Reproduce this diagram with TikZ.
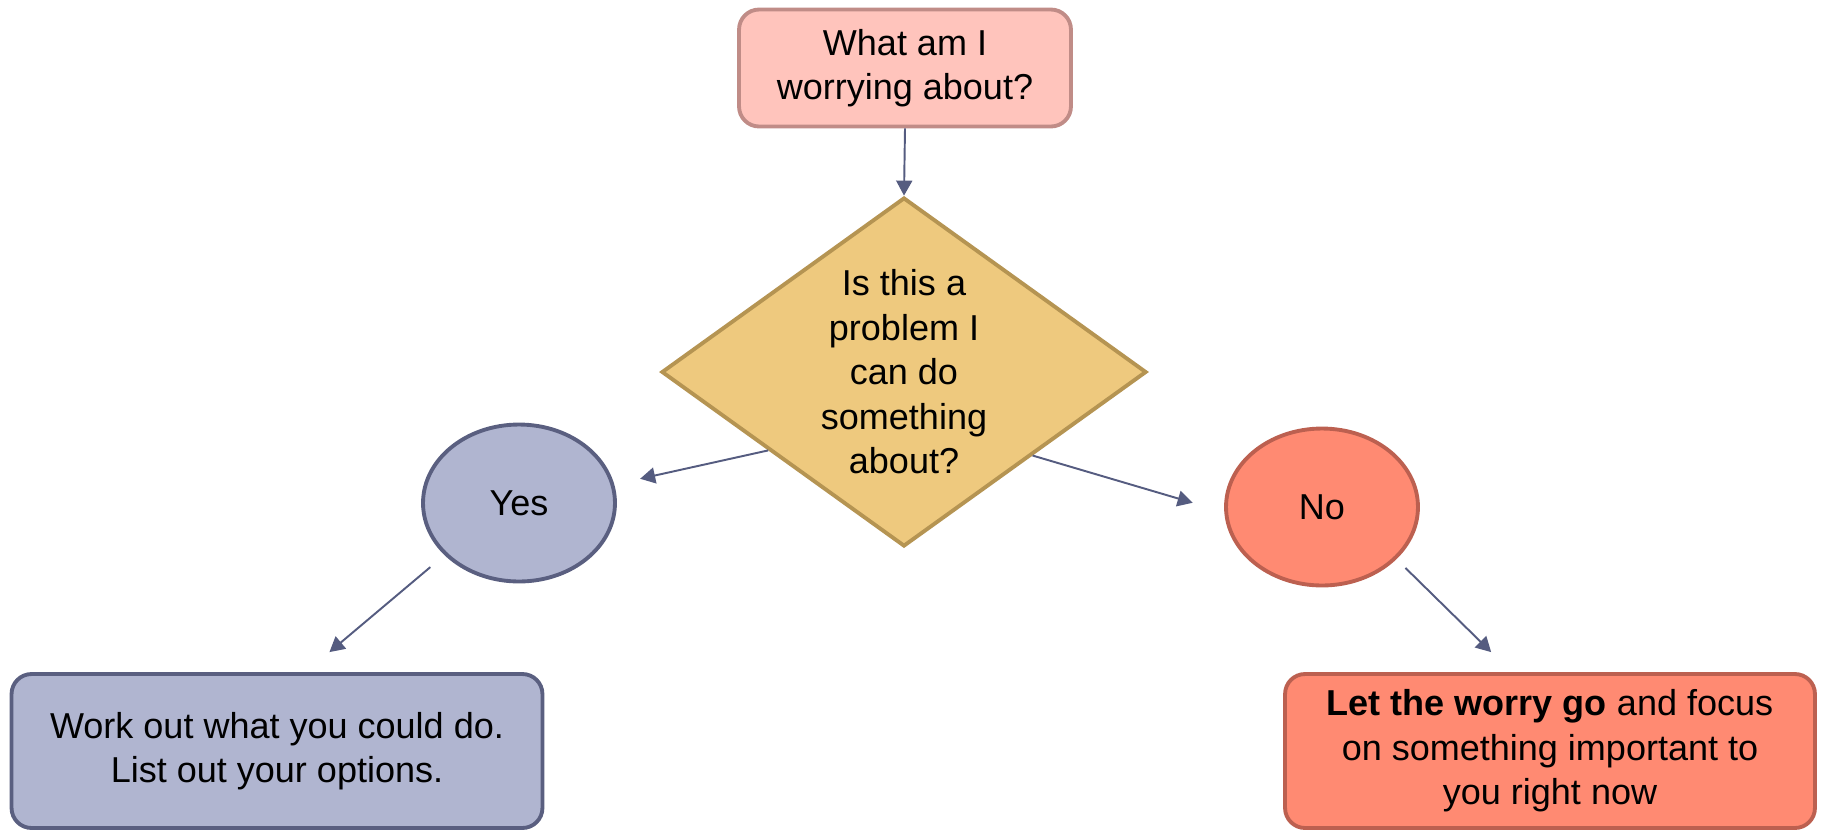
\documentclass[tikz,border=0pt]{standalone}
\usepackage{fontspec}
\setmainfont{Liberation Sans}
\usetikzlibrary{shapes.geometric,arrows.meta}

\definecolor{qfill}{RGB}{255,196,188}
\definecolor{qline}{RGB}{192,140,135}
\definecolor{dfill}{RGB}{238,201,126}
\definecolor{dline}{RGB}{181,148,82}
\definecolor{yfill}{RGB}{176,181,208}
\definecolor{yline}{RGB}{90,95,128}
\definecolor{nfill}{RGB}{255,138,114}
\definecolor{nline}{RGB}{188,96,80}
\definecolor{aline}{RGB}{85,92,128}

\tikzset{
    txt/.style={font=\fontsize{20.5}{25.3}\selectfont, align=center, inner sep=0pt},
    box/.style={txt, draw, rectangle, rounded corners=0.4cm, line width=2.2pt},
    decision/.style={txt, draw, diamond, aspect=1.39, line width=2.2pt},
    answer/.style={txt, draw, ellipse, line width=2.2pt,
        minimum width=3.84cm, minimum height=3.14cm},
    conn/.style={draw=aline, line width=1.1pt,
        -{Triangle[length=0.3cm,width=0.32cm]}}
}

\begin{document}
\begin{tikzpicture}[x=0.02cm,y=-0.02cm]
        \useasboundingbox (0,0) rectangle (1823,833);
        %% Question
        \node[box, fill=qfill, draw=qline, minimum width=6.64cm, minimum height=2.34cm]
            (q) at (905,68) {What am I\\worrying about?};
        \node[decision, fill=dfill, draw=dline, minimum width=9.7cm, minimum height=6.98cm]
            (dia) at (904,372) {Is this a\\problem I\\can do\\something\\about?};
        %% Answers
        \node[answer, fill=yfill, draw=yline] (yes) at (519,503) {Yes};
        \node[answer, fill=nfill, draw=nline] (no) at (1322,507) {No};
        %% Actions
        \node[box, fill=yfill, draw=yline, minimum width=10.62cm, minimum height=3.08cm]
            (ybox) at (277,751) {Work out what you could do.\\List out your options.};
        \node[box, fill=nfill, draw=nline, minimum width=10.6cm, minimum height=3.08cm]
            (nbox) at (1550,751) {\textbf{Let the worry go} and focus\\on something important to\\you right now};
        %% Arrows
        \draw[conn] (q.south) -- (dia.north);
        \draw[conn, shorten >=0.53cm] (dia.210) -- (yes.11);
        \draw[conn, shorten >=0.66cm] (dia.-33) -- (no.183);
        \draw[conn, shorten <=0.37cm, shorten >=0.62cm] (yes.215) -- (ybox.70);
        \draw[conn, shorten <=0.25cm, shorten >=0.57cm] (no.-35) -- (nbox.116);
    \end{tikzpicture}
\end{document}
